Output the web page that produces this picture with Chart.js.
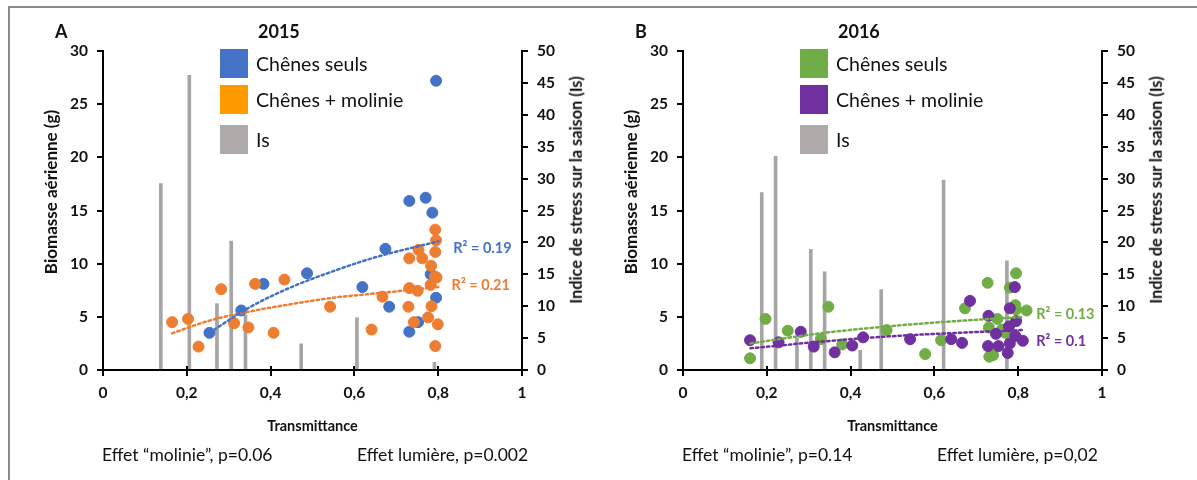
<!DOCTYPE html>
<html>
<head>
<meta charset="utf-8">
<script src="https://cdn.jsdelivr.net/npm/chart.js@4"></script>
<style>
  html, body { margin: 0; padding: 0; background: #fff; }
  body { width: 1197px; height: 480px; position: relative; overflow: hidden; font-family: "Lato", sans-serif; color: #111; }
  .frame { position: absolute; left: 8px; top: 6px; width: 1300px; height: 600px; border-top: 2px solid #8a8a8a; border-left: 2px solid #8a8a8a; }
  canvas { position: absolute; top: 0; }
  .txt { position: absolute; white-space: nowrap; line-height: 1; }
  .panel-letter { font-weight: bold; font-size: 18px; }
  .year { font-weight: bold; font-size: 18px; }
  .legend-box { position: absolute; width: 28px; height: 29px; }
  .legend-label { font-size: 19.5px; }
  .note { font-size: 17.5px; }
  .left-title { font-weight: bold; font-size: 17px; transform: translate(-50%, -50%) rotate(-90deg); }
  .right-title { font-weight: bold; font-size: 16.3px; transform: translate(-50%, -50%) rotate(-90deg); }
  .axis { position: absolute; background: #000; }
</style>
</head>
<body>
<div class="frame"></div>
<canvas id="chart-a" width="580" height="480" style="left:0"></canvas>
<canvas id="chart-b" width="580" height="480" style="left:580px"></canvas>
<div id="overlay"></div>
<script>
// --- 2015 (panel A) ---
const seuls2015 = [
  [0.795, 27.2], [0.731, 15.9], [0.770, 16.2], [0.786, 14.8], [0.674, 11.4],
  [0.487, 9.1], [0.383, 8.1], [0.619, 7.8], [0.782, 9.0], [0.795, 6.8],
  [0.683, 5.95], [0.330, 5.6], [0.254, 3.5], [0.731, 3.6], [0.752, 4.5],
];
const molinie2015 = [
  [0.165, 4.5], [0.203, 4.8], [0.228, 2.2], [0.282, 7.6], [0.313, 4.4],
  [0.347, 4.0], [0.363, 8.1], [0.407, 3.5], [0.433, 8.5], [0.542, 5.95],
  [0.641, 3.8], [0.667, 6.9], [0.731, 10.5], [0.731, 7.7], [0.729, 5.95],
  [0.742, 4.5], [0.753, 11.3], [0.762, 10.5], [0.751, 7.45], [0.776, 4.95],
  [0.783, 9.8], [0.782, 8.0], [0.784, 6.0], [0.793, 13.2], [0.795, 12.2],
  [0.793, 11.1], [0.792, 8.8], [0.796, 8.7], [0.799, 4.3], [0.793, 2.25],
];
const is2015 = [
  [0.138, 29.2], [0.206, 46.2], [0.272, 10.4], [0.306, 20.2],
  [0.340, 8.6], [0.473, 4.1], [0.606, 8.2], [0.791, 1.2],
];
const trendSeuls2015 = [[0.254, 3.5], [0.35, 5.9], [0.45, 7.8], [0.55, 9.3], [0.65, 10.6], [0.80, 12.1]];
const trendMolinie2015 = [[0.165, 3.45], [0.25, 4.6], [0.35, 5.5], [0.45, 6.2], [0.55, 6.8], [0.65, 7.2], [0.80, 7.8]];

// --- 2016 (panel B) ---
const seuls2016 = [
  [0.160, 1.1], [0.197, 4.8], [0.250, 3.7], [0.329, 2.9], [0.347, 5.95],
  [0.380, 2.4], [0.486, 3.76], [0.578, 1.5], [0.616, 2.8], [0.673, 5.8],
  [0.727, 8.2], [0.730, 4.0], [0.731, 1.25], [0.740, 1.4], [0.750, 4.8],
  [0.761, 3.8], [0.769, 3.5], [0.780, 7.75], [0.795, 9.1], [0.793, 6.1],
  [0.795, 5.7], [0.820, 5.6],
];
const molinie2016 = [
  [0.160, 2.8], [0.228, 2.6], [0.281, 3.6], [0.312, 2.2], [0.362, 1.66],
  [0.404, 2.3], [0.430, 3.07], [0.542, 2.9], [0.640, 2.9], [0.666, 2.55],
  [0.685, 6.5], [0.729, 5.1], [0.728, 2.25], [0.747, 3.4], [0.753, 2.25],
  [0.775, 1.6], [0.780, 2.5], [0.778, 4.1], [0.780, 5.8], [0.792, 7.8],
  [0.795, 4.6], [0.793, 3.2], [0.811, 2.75],
];
const is2016 = [
  [0.188, 27.8], [0.221, 33.5], [0.272, 5.0], [0.305, 18.9], [0.338, 15.4],
  [0.423, 3.1], [0.473, 12.6], [0.622, 29.75], [0.773, 17.1],
];
const trendSeuls2016 = [[0.161, 2.5], [0.328, 3.45], [0.479, 4.07], [0.630, 4.54], [0.813, 5.0]];
const trendMolinie2016 = [[0.161, 2.04], [0.328, 2.66], [0.479, 3.13], [0.630, 3.45], [0.813, 3.76]];

// axis ticks
const xTicks = [0, 0.2, 0.4, 0.6, 0.8, 1];
const yTicks = [0, 5, 10, 15, 20, 25, 30];
const y2Ticks = [0, 5, 10, 15, 20, 25, 30, 35, 40, 45, 50];

// R² labels: [x, y, text]
const r2A = [[0.836, 11.44, "R² = 0.19"], [0.832, 8.0, "R² = 0.21"]];
const r2B = [[0.843, 5.2, "R² = 0.13"], [0.843, 2.73, "R² = 0.1"]];

const FONT = "Lato";
const toXY = (arr) => arr.map(([x, y]) => ({ x, y }));
const first = (a) => a[0];
const last = (a) => a[a.length - 1];

const r2Plugin = {
  id: "r2labels",
  afterDatasetsDraw(chart, args, opts) {
    const { ctx, scales } = chart;
    ctx.save();
    ctx.font = `bold 14.5px ${FONT}`;
    ctx.textAlign = "left";
    ctx.textBaseline = "middle";
    opts.labels.forEach(([x, y, text], i) => {
      ctx.fillStyle = opts.colors[i];
      ctx.fillText(text, scales.x.getPixelForValue(x), scales.y.getPixelForValue(y));
    });
    ctx.restore();
  },
};

const axisBorder = { display: true, color: "#000", width: 2 };
const axisGrid = { display: true, drawOnChartArea: false, drawTicks: true, tickLength: 6, color: "#000", lineWidth: 2, offset: false };
const tickFont = { family: FONT, weight: "bold", size: 15.5 };
const setTicks = (values) => (s) => { s.ticks = values.map((v) => ({ value: v })); };

function makeChart(id, d) {
  const canvas = document.getElementById(id);
  return new Chart(canvas, {
    type: "scatter",
    data: {
      datasets: [
        {
          type: "line", data: toXY(d.trend1), borderColor: d.c1, borderWidth: 2.5,
          borderDash: [2.5, 3], borderCapStyle: "round", pointRadius: 0, tension: 0.4,
          cubicInterpolationMode: "monotone", order: 0,
        },
        {
          type: "line", data: toXY(d.trend2), borderColor: d.c2, borderWidth: 2.5,
          borderDash: [2.5, 3], borderCapStyle: "round", pointRadius: 0, tension: 0.4,
          cubicInterpolationMode: "monotone", order: 0,
        },
        { data: toXY(d.pts2), backgroundColor: d.c2, borderColor: d.c2, pointRadius: 5.5, borderWidth: 1, order: 1 },
        { data: toXY(d.pts1), backgroundColor: d.c1, borderColor: d.c1, pointRadius: 5.5, borderWidth: 1, order: 1 },
        {
          type: "bar", data: toXY(d.bars), yAxisID: "y2", backgroundColor: "#A5A5A5",
          barThickness: 3, order: 2,
        },
      ],
    },
    options: {
      responsive: false,
      animation: false,
      layout: { padding: { top: 51, left: 0, right: 0, bottom: 0 } },
      plugins: {
        legend: { display: false },
        tooltip: { enabled: false },
        r2labels: { labels: d.r2, colors: [d.c1, d.c2] },
      },
      scales: {
        x: {
          type: "linear", min: first(xTicks), max: last(xTicks), offset: false,
          afterBuildTicks: setTicks(xTicks),
          afterFit: (s) => { s.height = 110; },
          border: axisBorder,
          grid: axisGrid,
          ticks: {
            padding: 8, color: "#111", font: tickFont,
            callback: (v) => String(v).replace(".", ","),
          },
          title: {
            display: true, text: "Transmittance", color: "#111",
            font: { family: FONT, weight: "bold", size: 14.5 }, padding: { top: 0, bottom: 45 },
          },
        },
        y: {
          position: "left", min: first(yTicks), max: last(yTicks),
          afterBuildTicks: setTicks(yTicks),
          afterFit: (s) => { s.width = 103; },
          border: axisBorder,
          grid: axisGrid,
          ticks: { padding: 9, color: "#111", font: tickFont },
        },
        y2: {
          position: "right", min: first(y2Ticks), max: last(y2Ticks),
          afterBuildTicks: setTicks(y2Ticks),
          afterFit: (s) => { s.width = 58; },
          border: axisBorder,
          grid: axisGrid,
          ticks: { padding: 9, color: "#111", font: tickFont },
        },
      },
    },
    plugins: [r2Plugin],
  });
}

const chartA = makeChart("chart-a", {
  pts1: seuls2015, pts2: molinie2015, bars: is2015,
  trend1: trendSeuls2015, trend2: trendMolinie2015,
  c1: "#4472C4", c2: "#ED7D31", r2: r2A,
});
const chartB = makeChart("chart-b", {
  pts1: seuls2016, pts2: molinie2016, bars: is2016,
  trend1: trendSeuls2016, trend2: trendMolinie2016,
  c1: "#70AD47", c2: "#7030A0", r2: r2B,
});

const overlay = document.getElementById("overlay");

// axis lines and tick marks, placed from each chart's own chart area and scales
function addRect(left, top, width, height) {
  const el = document.createElement("div");
  el.className = "axis";
  Object.assign(el.style, { left: left + "px", top: top + "px", width: width + "px", height: height + "px" });
  overlay.appendChild(el);
}
function drawAxes(chart, dx) {
  const a = chart.chartArea;
  const { x, y, y2 } = chart.scales;
  const L = Math.round(a.left), R = Math.round(a.right), T = Math.round(a.top), B = Math.round(a.bottom);
  addRect(dx + L - 1, B - 1, R - L + 2, 2);
  addRect(dx + L - 1, T - 1, 2, B - T + 1);
  addRect(dx + R - 1, T - 1, 2, B - T + 1);
  xTicks.forEach((v) => addRect(dx + Math.round(x.getPixelForValue(v)) - 1, B - 4, 2, 9));
  yTicks.forEach((v) => addRect(dx + L - 6, Math.round(y.getPixelForValue(v)) - 1, 6, 2));
  y2Ticks.forEach((v) => addRect(dx + R, Math.round(y2.getPixelForValue(v)) - 1, 6, 2));
}
drawAxes(chartA, 0);
drawAxes(chartB, 580);

// overlay text: panel letters, years, legends, notes, axis titles
const panels = [
  { dx: 0, letter: "A", year: "2015", legend: ["#4472C4", "#FF9900", "#AEAAAA"], notes: ["Effet “molinie”, p=0.06", "Effet lumière, p=0.002"] },
  { dx: 580, letter: "B", year: "2016", legend: ["#70AD47", "#7030A0", "#AEAAAA"], notes: ["Effet “molinie”, p=0.14", "Effet lumière, p=0,02"] },
];
const legendNames = ["Chênes seuls", "Chênes + molinie", "Is"];
function addText(cls, text, left, top) {
  const el = document.createElement("div");
  el.className = "txt " + cls;
  el.textContent = text;
  el.style.left = left + "px";
  el.style.top = top + "px";
  overlay.appendChild(el);
  return el;
}
panels.forEach((p) => {
  addText("panel-letter", p.letter, p.dx + 55, 22);
  addText("year", p.year, p.dx + 258, 22);
  const tops = [49, 85, 125];
  legendNames.forEach((name, i) => {
    const box = document.createElement("div");
    box.className = "legend-box";
    box.style.left = p.dx + 220 + "px";
    box.style.top = tops[i] + "px";
    box.style.background = p.legend[i];
    overlay.appendChild(box);
    addText("legend-label", name, p.dx + 256, tops[i] + 5);
  });
  addText("note", p.notes[0], p.dx + 102, 446);
  addText("note", p.notes[1], p.dx + 357, 446);
  addText("left-title", "Biomasse aérienne (g)", p.dx + 50, 192);
  addText("right-title", "Indice de stress sur la saison (Is)", p.dx + 576, 190);
});
</script>
</body>
</html>
